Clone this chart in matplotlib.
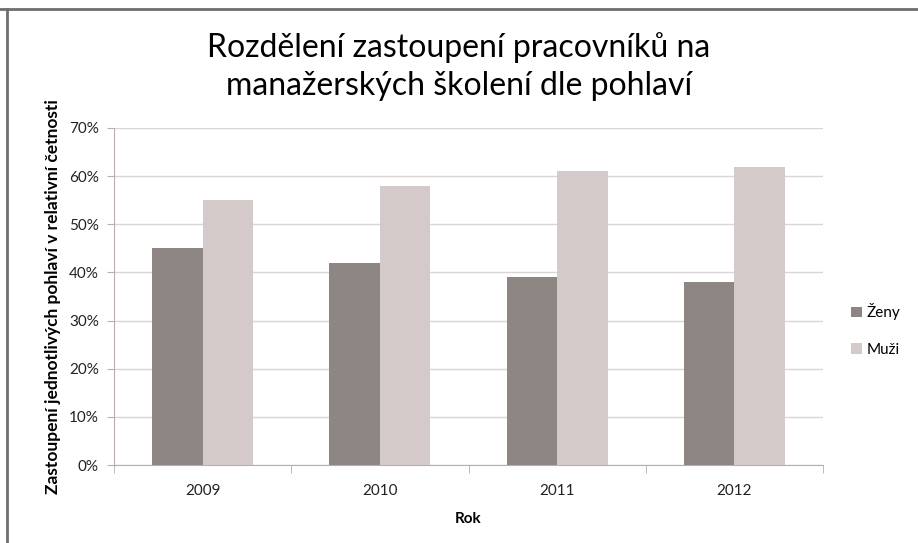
import numpy as np
import matplotlib.pyplot as plt
from matplotlib.ticker import FuncFormatter, FixedLocator

years = ['2009', '2010', '2011', '2012']
zeny = [45, 42, 39, 38]
muzi = [55, 58, 61, 62]

plt.rcParams['font.family'] = ['Lato', 'DejaVu Sans']

c_zeny = '#8E8683'
c_muzi = '#D3CAC9'
grid_c = '#D9D5D4'
axis_c = '#B7AEAD'

fig = plt.figure(figsize=(9.18, 5.43), dpi=100)
ax = fig.add_axes([0.1242, 0.1436, 0.7723, 0.6207])

x = np.arange(len(years))
w = 0.285
ax.bar(x - w/2, zeny, w, color=c_zeny, label='Ženy', zorder=3)
ax.bar(x + w/2, muzi, w, color=c_muzi, label='Muži', zorder=3)

ax.set_xlim(-0.5, len(years) - 0.5)
ax.set_ylim(0, 70)
ax.set_yticks(np.arange(0, 71, 10))
ax.yaxis.set_major_formatter(FuncFormatter(lambda v, p: f'{int(v)}%'))
ax.yaxis.grid(True, color=grid_c, linewidth=1, zorder=0)

ax.set_xticks(x)
ax.set_xticklabels(years)
ax.xaxis.set_minor_locator(FixedLocator(np.arange(-0.5, len(years), 1)))
ax.tick_params(axis='x', which='major', length=0, pad=14, labelsize=11, colors='#222222')
ax.tick_params(axis='x', which='minor', length=6, color=axis_c)
ax.tick_params(axis='y', length=5, color=axis_c, labelsize=11, labelcolor='#222222', pad=6)

for s in ['top', 'right']:
    ax.spines[s].set_visible(False)
for s in ['left', 'bottom']:
    ax.spines[s].set_color(axis_c)

ax.set_xlabel('Rok', fontsize=11, fontweight='bold', labelpad=10)
ax.set_ylabel('Zastoupení jednotlivých pohlaví v relativní četnosti', fontsize=12.5,
              fontweight='bold', labelpad=6)

fig.text(0.5, 0.8775, 'Rozdělení zastoupení pracovníků na\nmanažerských školení dle pohlaví',
         ha='center', va='center', fontsize=23, linespacing=1.3)

ax.legend(loc='center left', bbox_to_anchor=(1.02, 0.40), frameon=False,
          fontsize=11, handlelength=0.7, handleheight=0.7, labelspacing=1.5,
          handletextpad=0.3)

fig.add_artist(plt.Line2D([0, 1], [1 - 9/543, 1 - 9/543], color='#6E6E6E', linewidth=2))
fig.add_artist(plt.Line2D([7/918, 7/918], [0, 1 - 9/543], color='#6E6E6E', linewidth=2))

fig.savefig('out.png', dpi=100)
